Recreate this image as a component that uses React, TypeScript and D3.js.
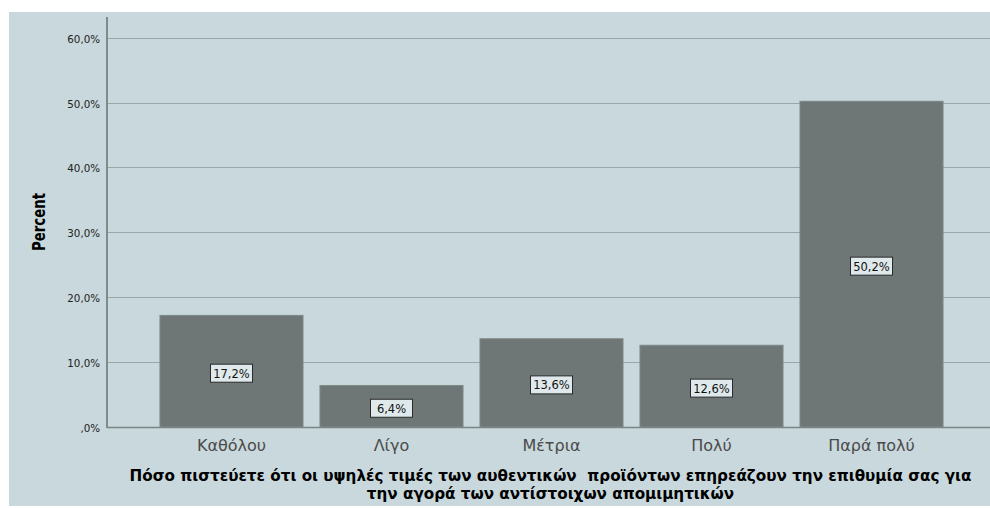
import React from "react";
import * as d3 from "d3";

const categories = ["Καθόλου", "Λίγο", "Μέτρια", "Πολύ", "Παρά πολύ"];
const percents = [17.2, 6.4, 13.6, 12.6, 50.2];
const yTicks = [0, 10, 20, 30, 40, 50, 60];
const titleLines = [
  "Πόσο πιστεύετε ότι οι υψηλές τιμές των αυθεντικών  προϊόντων επηρεάζουν την επιθυμία σας για",
  "την αγορά των αντίστοιχων απομιμητικών",
];
const yLabel = "Percent";

const W = 990;
const H = 508;

const fmt = (v: number) => (v === 0 ? ",0%" : v.toFixed(1).replace(".", ",") + "%");

export default function App() {
  const axisX = 107;
  const y = d3.scaleLinear().domain([0, 60]).range([427, 37.7]);
  const x = d3
    .scaleBand<string>()
    .domain(categories)
    .range([axisX, 996])
    .paddingInner(0.106)
    .paddingOuter(0.331);

  return (
    <svg
      width={W}
      height={H}
      style={{ position: "absolute", left: 0, top: 0, display: "block" }}
    >
      <rect x={0} y={0} width={W} height={H} fill="#ffffff" />
      <rect x={9} y={12} width={W - 9} height={H - 14} fill="#c9d8dc" />

      {/* gridlines */}
      {yTicks.map((t) => (
        <line
          key={t}
          x1={axisX}
          x2={W}
          y1={Math.round(y(t)) + 0.5}
          y2={Math.round(y(t)) + 0.5}
          stroke="#98a8a8"
          strokeWidth={1}
        />
      ))}

      {/* bars */}
      {categories.map((c, i) => (
        <rect
          key={c}
          x={x(c)!}
          y={y(percents[i])}
          width={x.bandwidth()}
          height={y(0) - y(percents[i])}
          fill="#6e7776"
          stroke="#7f8888"
          strokeWidth={1}
        />
      ))}

      {/* baseline and y axis */}
      <line x1={axisX} x2={W} y1={427.5} y2={427.5} stroke="#7a8585" strokeWidth={1.5} />
      <line x1={axisX} x2={axisX} y1={17} y2={428} stroke="#7f8a8a" strokeWidth={2} />

      {/* y tick labels */}
      {yTicks.map((t) => (
        <text
          key={t}
          x={100}
          y={y(t) + 5}
          textAnchor="end"
          fontFamily="DejaVu Sans, sans-serif"
          fontSize={10.3}
          fill="#222"
        >
          {fmt(t)}
        </text>
      ))}

      {/* value labels */}
      {categories.map((c, i) => {
        const cx = x(c)! + x.bandwidth() / 2;
        const cy = y(percents[i] / 2) + 2;
        const w = 42;
        const h = 18;
        return (
          <g key={c}>
            <rect
              x={cx - w / 2}
              y={cy - h / 2}
              width={w}
              height={h}
              fill="#dfe9eb"
              stroke="#2a2a2a"
              strokeWidth={1}
            />
            <text
              x={cx}
              y={cy + 4.5}
              textAnchor="middle"
              fontFamily="DejaVu Sans, sans-serif"
              fontSize={11.5}
              fill="#111"
            >
              {fmt(percents[i])}
            </text>
          </g>
        );
      })}

      {/* category labels */}
      {categories.map((c) => (
        <text
          key={c}
          x={x(c)! + x.bandwidth() / 2}
          y={450.5}
          textAnchor="middle"
          fontFamily="DejaVu Sans, sans-serif"
          fontSize={16}
          fill="#4a4a4a"
        >
          {c}
        </text>
      ))}

      {/* x axis title */}
      {titleLines.map((line, i) => (
        <text
          key={i}
          x={550.5}
          y={481 + i * 17.5}
          textAnchor="middle"
          fontFamily="DejaVu Sans, sans-serif"
          fontWeight="bold"
          fontSize={15.2}
          fill="#000"
          style={{ whiteSpace: "pre" }}
        >
          {line}
        </text>
      ))}

      {/* y axis title */}
      <text
        transform={`translate(45, 222) rotate(-90)`}
        textAnchor="middle"
        fontFamily="Liberation Sans Narrow, DejaVu Sans Condensed, sans-serif"
        fontWeight="bold"
        fontSize={18}
        textLength={58}
        lengthAdjust="spacingAndGlyphs"
        fill="#000"
      >
        {yLabel}
      </text>
    </svg>
  );
}
